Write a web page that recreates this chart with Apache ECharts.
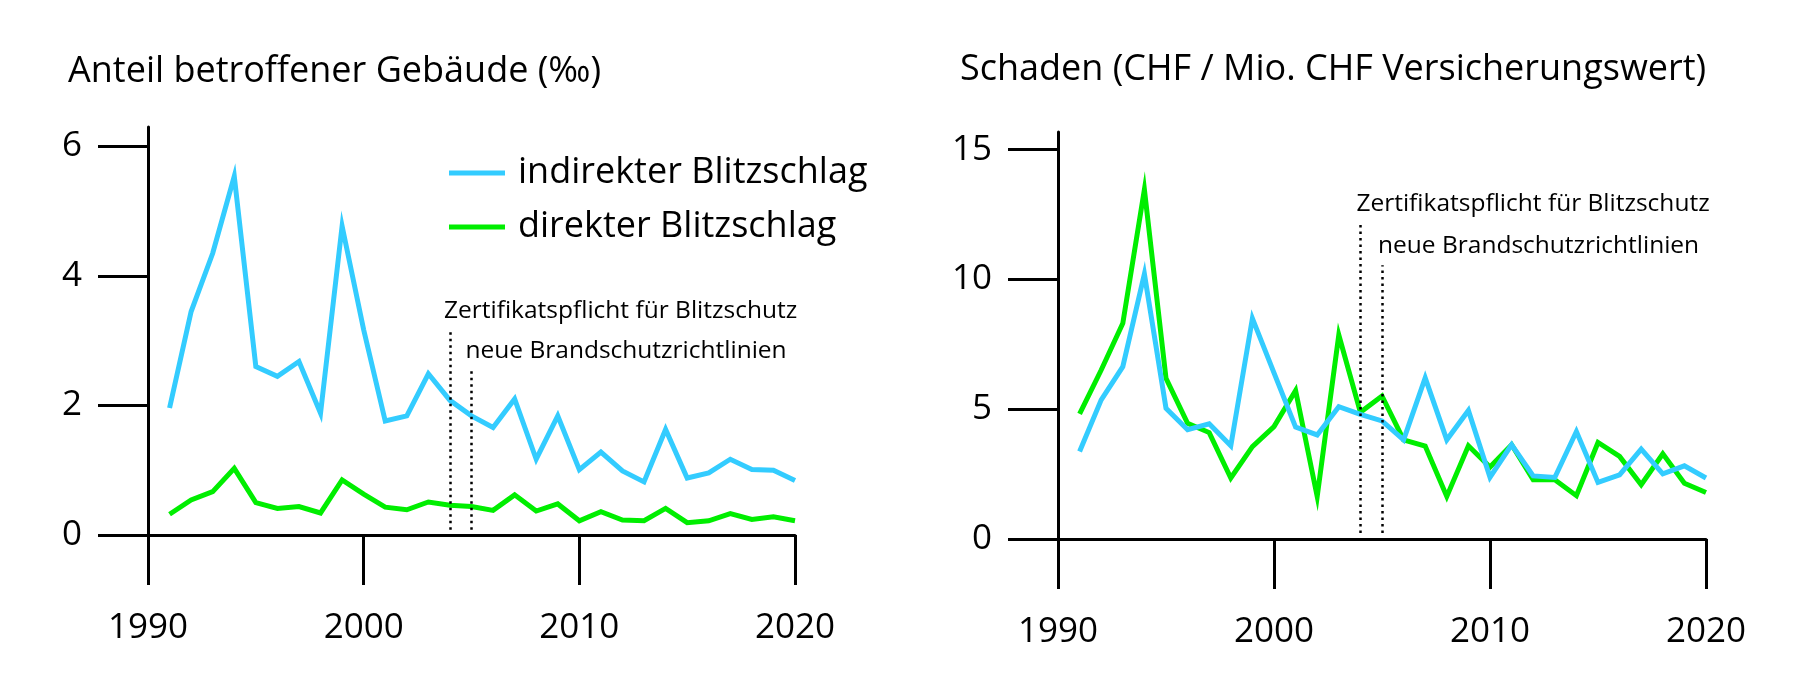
<!DOCTYPE html>
<html>
<head>
<meta charset="utf-8">
<script src="https://cdn.jsdelivr.net/npm/echarts@6/dist/echarts.min.js"></script>
<style>
  html, body { margin: 0; padding: 0; background: #fff; }
  #chart { width: 1800px; height: 688px; }
</style>
</head>
<body>
<div id="chart"></div>
<script>
const years = [1991, 1992, 1993, 1994, 1995, 1996, 1997, 1998, 1999, 2000,
  2001, 2002, 2003, 2004, 2005, 2006, 2007, 2008, 2009, 2010,
  2011, 2012, 2013, 2014, 2015, 2016, 2017, 2018, 2019, 2020];

// Anteil betroffener Gebäude (‰)
const shareIndirect = [1.96, 3.45, 4.35, 5.54, 2.60, 2.45, 2.68, 1.88, 4.77, 3.17,
  1.76, 1.84, 2.49, 2.08, 1.84, 1.66, 2.10, 1.17, 1.84, 1.01,
  1.28, 0.99, 0.82, 1.63, 0.88, 0.96, 1.17, 1.01, 1.00, 0.84];
const shareDirect = [0.32, 0.54, 0.67, 1.03, 0.50, 0.41, 0.44, 0.34, 0.85, 0.63,
  0.43, 0.39, 0.51, 0.46, 0.44, 0.38, 0.62, 0.37, 0.48, 0.22,
  0.36, 0.23, 0.22, 0.41, 0.19, 0.22, 0.33, 0.24, 0.28, 0.22];

// Schaden (CHF / Mio. CHF Versicherungswert)
const damageIndirect = [3.37, 5.36, 6.64, 10.21, 5.04, 4.21, 4.44, 3.59, 8.50, 6.40,
  4.31, 4.01, 5.10, 4.80, 4.55, 3.82, 6.21, 3.82, 4.95, 2.38,
  3.63, 2.43, 2.37, 4.14, 2.18, 2.47, 3.46, 2.51, 2.82, 2.35];
const damageDirect = [4.82, 6.51, 8.31, 13.46, 6.19, 4.46, 4.10, 2.35, 3.56, 4.33,
  5.72, 1.64, 7.86, 4.88, 5.51, 3.82, 3.58, 1.64, 3.59, 2.77,
  3.63, 2.28, 2.28, 1.67, 3.72, 3.18, 2.09, 3.28, 2.15, 1.79];

const shareTicks = [0, 2, 4, 6];
const damageTicks = [0, 5, 10, 15];

// rule changes: year, label, top of marker line in each panel
const events = [
  { year: 2004, label: "Zertifikatspflicht für Blitzschutz", shareTop: 3.17, damageTop: 12.18 },
  { year: 2005, label: "neue Brandschutzrichtlinien", shareTop: 2.55, damageTop: 10.55 },
];

const names = ["indirekter Blitzschlag", "direkter Blitzschlag"];
const blue = "#33ccff";
const green = "#00ee00";
const font = "Open Sans";
const ink = "#000";

const pairs = (values) => years.map((year, i) => [year, values[i]]);

function xAxis(gridIndex) {
  return {
    type: "value", gridIndex, min: 1990, max: 2020, interval: 10,
    axisLine: { lineStyle: { color: ink, width: 3 } },
    axisTick: { length: 50, lineStyle: { color: ink, width: 3 } },
    axisLabel: { color: ink, fontFamily: font, fontSize: 35, margin: 76, formatter: (v) => String(v) },
    splitLine: { show: false },
  };
}

function yAxis(gridIndex, max, ticks) {
  return {
    type: "value", gridIndex, min: 0, max,
    axisLine: { show: true, lineStyle: { color: ink, width: 3 } },
    axisTick: { show: true, length: 50, customValues: ticks, lineStyle: { color: ink, width: 3 } },
    axisLabel: { color: ink, fontFamily: font, fontSize: 35, margin: 66, customValues: ticks },
    splitLine: { show: false },
  };
}

function eventLines(bottom, topKey, dx) {
  return {
    silent: true,
    animation: false,
    symbol: ["none", "none"],
    lineStyle: { color: ink, width: 2.5, type: [2.5, 4] },
    label: {
      show: true, position: "end", distance: 4, align: "left", verticalAlign: "bottom",
      offset: [dx, 0],
      color: ink, fontFamily: font, fontSize: 24.5, lineHeight: 30,
      formatter: (p) => p.data.label,
    },
    data: events.map((e) => [
      { coord: [e.year, bottom], label: e.label },
      { coord: [e.year, e[topKey]] },
    ]),
  };
}

function line(name, color, values, xAxisIndex, extra) {
  return {
    name, type: "line", xAxisIndex, yAxisIndex: xAxisIndex,
    data: pairs(values), color,
    showSymbol: false, symbol: "none",
    lineStyle: { width: 5, color, join: "miter", miterLimit: 8 },
    emphasis: { disabled: true },
    animation: false,
    ...extra,
  };
}

const titleStyle = { fontFamily: font, fontSize: 36, fontWeight: "normal", color: ink, lineHeight: 44 };

const chart = echarts.init(document.getElementById("chart"), null, { renderer: "canvas" });
chart.setOption({
  backgroundColor: "#fff",
  textStyle: { fontFamily: font },
  title: [
    { text: "Anteil betroffener Gebäude (‰)", left: 63, top: 45, textStyle: titleStyle },
    { text: "Schaden (CHF / Mio. CHF Versicherungswert)", left: 955, top: 43, textStyle: titleStyle },
  ],
  legend: {
    orient: "vertical", left: 444, top: 146,
    data: names, icon: "rect", itemWidth: 56, itemHeight: 5, itemGap: 10,
    textStyle: { fontFamily: font, fontSize: 36, color: ink, lineHeight: 44, padding: [0, 0, 0, 8] },
    selectedMode: false,
  },
  grid: [
    { left: 148, right: 1005, top: 127, bottom: 153 },
    { left: 1058, right: 94, top: 132, bottom: 149 },
  ],
  xAxis: [xAxis(0), xAxis(1)],
  yAxis: [yAxis(0, 6.3, shareTicks), yAxis(1, 15.68, damageTicks)],
  series: [
    line(names[1], green, shareDirect, 0),
    line(names[0], blue, shareIndirect, 0, { markLine: eventLines(0.08, "shareTop", -6) }),
    line(names[1], green, damageDirect, 1),
    line(names[0], blue, damageIndirect, 1, { markLine: eventLines(0.23, "damageTop", -4) }),
  ],
});
</script>
</body>
</html>
